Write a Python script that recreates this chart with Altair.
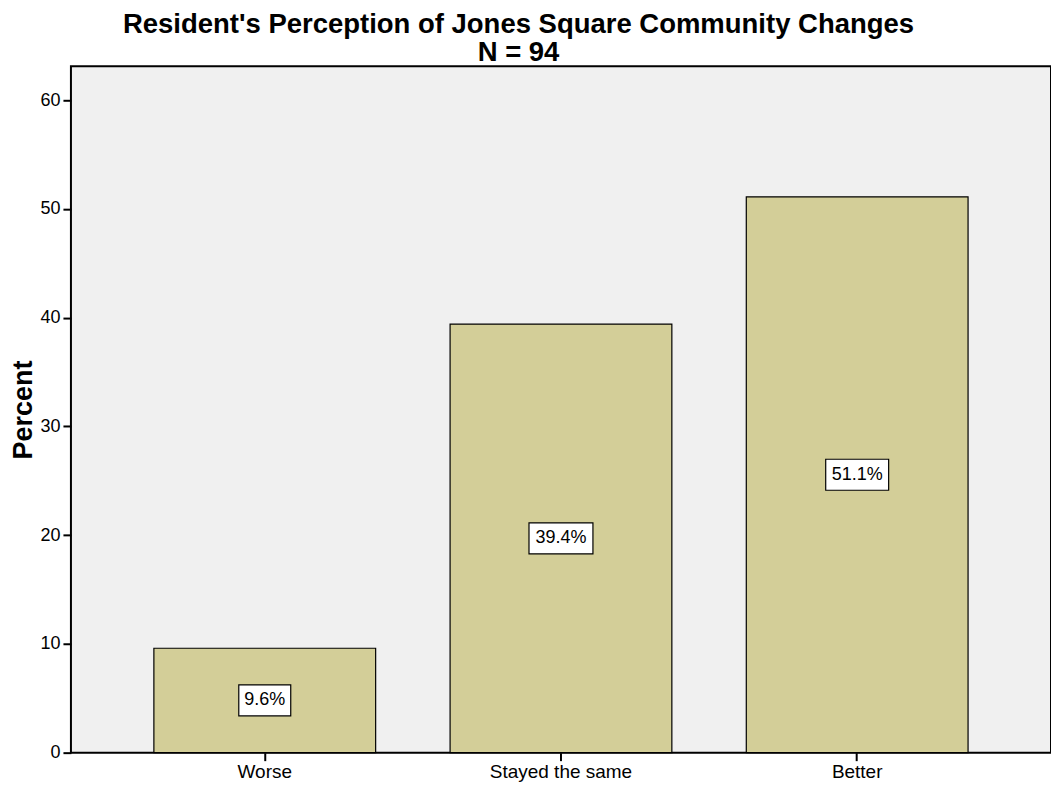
import altair as alt
import pandas as pd

categories = ["Worse", "Stayed the same", "Better"]
percents = [9.6, 39.4, 51.1]
value_labels = ["9.6%", "39.4%", "51.1%"]
y_ticks = [0, 10, 20, 30, 40, 50, 60]
title_lines = ["Resident's Perception of Jones Square Community Changes", "N = 94"]

df = pd.DataFrame({"category": categories, "percent": percents, "label": value_labels})
df["mid"] = df["percent"] / 2

# label box outlines (pixel paths, scaled 1:1 with symbol size 4)
box_w = [52, 64, 63]
box_h = 31
box_paths = [
    f"M{-w/2},{-box_h/2}L{w/2},{-box_h/2}L{w/2},{box_h/2}L{-w/2},{box_h/2}Z" for w in box_w
]

FONT = "Liberation Sans"

x_scale = alt.Scale(domain=categories, paddingInner=0.2513, paddingOuter=0.28)
y_scale = alt.Scale(domain=[0, 63.1], nice=False, zero=True)

x_enc = alt.X(
    "category:N",
    scale=x_scale,
    sort=categories,
    axis=alt.Axis(
        title=None, labelAngle=0, labelFontSize=19, labelFont=FONT, labelColor="black",
        tickSize=8, tickColor="black", tickWidth=2, domain=False, labelPadding=2,
    ),
)

y_axis = alt.Axis(
    values=y_ticks, title="Percent", titleFontSize=27, titleFontWeight="bold",
    titleFont=FONT, titleColor="black", labelFontSize=18, labelFont=FONT,
    labelColor="black", tickSize=8, tickColor="black", tickWidth=2, grid=False,
    domain=False, titlePadding=2, minExtent=31, maxExtent=31, labelPadding=3,
)

base = alt.Chart(df)

bars = base.mark_bar(color="#D3CE98", stroke="black", strokeWidth=1.2).encode(
    x=x_enc,
    y=alt.Y("percent:Q", scale=y_scale, axis=y_axis),
)

boxes = base.mark_point(
    filled=True, fill="white", stroke="black", strokeWidth=1.2, opacity=1
).encode(
    x=alt.X("category:N", scale=x_scale, sort=categories),
    y=alt.Y("mid:Q", scale=y_scale),
    shape=alt.Shape("label:N", scale=alt.Scale(domain=value_labels, range=box_paths), legend=None),
    size=alt.value(4),
)

texts = base.mark_text(fontSize=18, font=FONT, color="black", baseline="middle", align="center").encode(
    x=alt.X("category:N", scale=x_scale, sort=categories),
    y=alt.Y("mid:Q", scale=y_scale),
    text="label:N",
)

chart = (
    alt.layer(bars, boxes, texts)
    .properties(
        width=981,
        height=687,
        padding={"top": 2, "left": 2, "right": 0, "bottom": 0},
        title=alt.TitleParams(
            title_lines, fontSize=27.5, fontWeight="bold", font=FONT, lineHeight=28,
            anchor="middle", frame="bounds", offset=0, color="black", dx=-12,
        ),
    )
    .configure_view(fill="#F0F0F0", stroke="black", strokeWidth=2)
)

chart.save("out.html", embed_options={"renderer": "svg", "actions": False})
